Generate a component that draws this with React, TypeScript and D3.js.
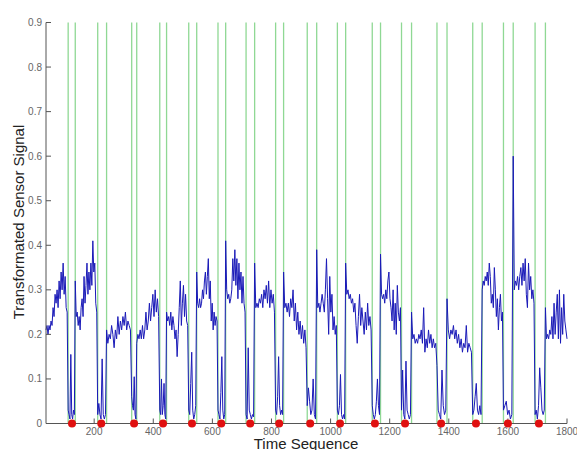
import React from "react";
import * as d3 from "d3";

// time range of the record
const tStart = 37;
const tEnd = 1800;

// green marker pairs (start / end of each detected window)
const windowStart = [112, 212, 327, 422, 520, 619, 714, 814, 921, 1023, 1141, 1240, 1360, 1481, 1585, 1692];
const windowEnd = [136, 242, 344, 445, 547, 645, 743, 841, 953, 1051, 1169, 1274, 1394, 1513, 1618, 1727];

// red events on the baseline
const eventTimes = [125, 224, 335, 433, 531, 630, 728, 826, 931, 1032, 1150, 1252, 1374, 1492, 1600, 1705];

// signal between windows
const highSegments = [
  [0.21, 0.22, 0.20, 0.22, 0.21, 0.23, 0.22, 0.26, 0.24, 0.29, 0.27, 0.30, 0.26, 0.32, 0.28, 0.34, 0.30, 0.36, 0.29, 0.33, 0.26, 0.25],
  [0.32, 0.24, 0.25, 0.22, 0.24, 0.21, 0.26, 0.28, 0.24, 0.33, 0.27, 0.31, 0.36, 0.29, 0.34, 0.30, 0.36, 0.31, 0.41, 0.34, 0.36, 0.27, 0.25],
  [0.21, 0.18, 0.20, 0.19, 0.22, 0.20, 0.17, 0.21, 0.19, 0.24, 0.20, 0.23, 0.21, 0.24, 0.22, 0.25, 0.21, 0.23, 0.22, 0.21],
  [0.18, 0.20, 0.19, 0.21, 0.19, 0.22, 0.19, 0.21, 0.25, 0.21, 0.23, 0.27, 0.23, 0.26, 0.29, 0.24, 0.30, 0.25, 0.28, 0.24],
  [0.25, 0.23, 0.24, 0.22, 0.25, 0.21, 0.24, 0.22, 0.19, 0.21, 0.15, 0.20, 0.26, 0.32, 0.22, 0.27, 0.31, 0.24, 0.29, 0.23, 0.22],
  [0.34, 0.27, 0.26, 0.28, 0.26, 0.27, 0.30, 0.28, 0.32, 0.34, 0.29, 0.33, 0.37, 0.28, 0.32, 0.23, 0.27, 0.21, 0.25, 0.22, 0.24, 0.23],
  [0.41, 0.30, 0.28, 0.29, 0.27, 0.28, 0.30, 0.37, 0.32, 0.39, 0.31, 0.37, 0.28, 0.36, 0.30, 0.34, 0.27, 0.33, 0.27, 0.25],
  [0.36, 0.26, 0.27, 0.26, 0.28, 0.27, 0.29, 0.26, 0.30, 0.28, 0.31, 0.27, 0.32, 0.26, 0.30, 0.27, 0.29, 0.25],
  [0.34, 0.26, 0.27, 0.25, 0.27, 0.24, 0.28, 0.26, 0.30, 0.23, 0.27, 0.21, 0.25, 0.20, 0.23, 0.19, 0.22, 0.18, 0.21, 0.17],
  [0.39, 0.26, 0.27, 0.25, 0.27, 0.29, 0.27, 0.25, 0.30, 0.37, 0.28, 0.20, 0.33, 0.25, 0.29, 0.21, 0.24, 0.20, 0.22],
  [0.36, 0.29, 0.30, 0.28, 0.29, 0.27, 0.28, 0.25, 0.27, 0.22, 0.18, 0.24, 0.29, 0.22, 0.26, 0.23, 0.20, 0.25, 0.21, 0.27, 0.22, 0.24, 0.21],
  [0.38, 0.29, 0.28, 0.29, 0.27, 0.30, 0.28, 0.32, 0.34, 0.28, 0.26, 0.23, 0.30, 0.21, 0.27, 0.20, 0.31, 0.25, 0.23, 0.26],
  [0.25, 0.19, 0.20, 0.18, 0.19, 0.18, 0.20, 0.19, 0.21, 0.18, 0.26, 0.16, 0.19, 0.17, 0.21, 0.18, 0.20, 0.17, 0.19, 0.17, 0.18],
  [0.28, 0.21, 0.19, 0.21, 0.20, 0.22, 0.19, 0.21, 0.18, 0.20, 0.17, 0.19, 0.16, 0.18, 0.17, 0.22, 0.16, 0.18, 0.17, 0.16],
  [0.30, 0.32, 0.31, 0.33, 0.32, 0.34, 0.31, 0.36, 0.33, 0.27, 0.29, 0.26, 0.35, 0.30, 0.24, 0.28, 0.21, 0.26, 0.29, 0.23, 0.25],
  [0.60, 0.30, 0.32, 0.31, 0.33, 0.30, 0.33, 0.35, 0.31, 0.36, 0.32, 0.37, 0.29, 0.26, 0.36, 0.30, 0.33, 0.28, 0.30, 0.27],
  [0.26, 0.19, 0.20, 0.19, 0.21, 0.20, 0.24, 0.19, 0.27, 0.20, 0.25, 0.29, 0.19, 0.30, 0.18, 0.26, 0.20, 0.29, 0.23, 0.21, 0.19],
];

// signal inside windows
const lowSegments = [
  [0.03, 0.02, 0.01, 0.155, 0.02, 0.01, 0.03, 0.02],
  [0.02, 0.045, 0.02, 0.01, 0.145, 0.02, 0.01, 0.02],
  [0.06, 0.04, 0.03, 0.105, 0.02, 0.01],
  [0.03, 0.02, 0.10, 0.02, 0.04, 0.09, 0.02, 0.01],
  [0.03, 0.02, 0.09, 0.16, 0.03, 0.01, 0.02, 0.04],
  [0.03, 0.02, 0.01, 0.07, 0.15, 0.03, 0.01, 0.02],
  [0.02, 0.01, 0.17, 0.03, 0.02, 0.01, 0.02, 0.015],
  [0.03, 0.02, 0.06, 0.15, 0.04, 0.02, 0.03, 0.02],
  [0.04, 0.08, 0.05, 0.02, 0.03, 0.10, 0.02, 0.01],
  [0.03, 0.02, 0.04, 0.11, 0.02, 0.01, 0.02, 0.01],
  [0.04, 0.02, 0.01, 0.02, 0.05, 0.10, 0.04, 0.02],
  [0.03, 0.12, 0.02, 0.01, 0.14, 0.03, 0.02, 0.01, 0.02],
  [0.13, 0.03, 0.02, 0.01, 0.12, 0.04, 0.02, 0.03],
  [0.02, 0.03, 0.06, 0.09, 0.03, 0.02, 0.04, 0.02],
  [0.03, 0.04, 0.05, 0.02, 0.03, 0.01, 0.02],
  [0.02, 0.03, 0.01, 0.04, 0.125, 0.08, 0.03, 0.02, 0.03],
];

const xTicks = [200, 400, 600, 800, 1000, 1200, 1400, 1600, 1800];
const yTicks = [0, 0.1, 0.2, 0.3, 0.4, 0.5, 0.6, 0.7, 0.8, 0.9];

const W = 577;
const H = 450;
const font = "'Liberation Sans', Arial, sans-serif";

function spread(vals: number[], s: number, e: number, last: boolean): [number, number][] {
  const n = vals.length;
  return vals.map((v, k) => [s + ((e - s) * k) / (last ? n - 1 : n), v] as [number, number]);
}

export default function App() {
  const x = d3.scaleLinear().domain([tStart, tEnd]).range([46, 567]);
  const y = d3.scaleLinear().domain([0, 0.9]).range([423.5, 22.5]);

  const pts: [number, number][] = [];
  highSegments.forEach((seg, i) => {
    const s = i === 0 ? tStart : windowEnd[i - 1];
    const e = i === highSegments.length - 1 ? tEnd : windowStart[i];
    pts.push(...spread(seg, s, e, i === highSegments.length - 1));
    if (i < lowSegments.length) pts.push(...spread(lowSegments[i], windowStart[i], windowEnd[i], false));
  });

  const line = d3.line<[number, number]>().x((d) => x(d[0])).y((d) => y(d[1]));
  const greens = [...windowStart, ...windowEnd];

  return (
    <svg width={W} height={H} style={{ position: "absolute", left: 0, top: 0, background: "#fff" }} fontFamily={font}>
      {greens.map((t, i) => (
        <line key={"g" + i} x1={x(t)} x2={x(t)} y1={y(0)} y2={y(0.9)} stroke="#8fd894" strokeWidth={1.3} />
      ))}
      <path d={line(pts) || ""} fill="none" stroke="#1a1ab8" strokeWidth={1} strokeLinejoin="round" />
      {/* axes */}
      <line x1={46} x2={46} y1={y(0.9)} y2={y(0)} stroke="#555" />
      <line x1={46} x2={x(1800)} y1={y(0)} y2={y(0)} stroke="#555" />
      {yTicks.map((v) => (
        <g key={"y" + v}>
          <line x1={46} x2={51} y1={y(v)} y2={y(v)} stroke="#555" />
          <text x={42} y={y(v) + 3.5} textAnchor="end" fontSize={10} fill="#666">
            {v === 0 ? "0" : v.toFixed(1)}
          </text>
        </g>
      ))}
      {xTicks.map((v) => (
        <g key={"x" + v}>
          <line x1={x(v)} x2={x(v)} y1={y(0)} y2={y(0) - 5} stroke="#555" />
          <text x={x(v)} y={435} textAnchor="middle" fontSize={10} fill="#666">
            {v}
          </text>
        </g>
      ))}
      {eventTimes.map((t, i) => (
        <circle key={"r" + i} cx={x(t)} cy={y(0)} r={4} fill="#e01010" />
      ))}
      <text x={306} y={449} textAnchor="middle" fontSize={15} fill="#222">
        Time Sequence
      </text>
      <text transform="translate(24,222) rotate(-90)" textAnchor="middle" fontSize={15} fill="#222">
        Transformated Sensor Signal
      </text>
    </svg>
  );
}
